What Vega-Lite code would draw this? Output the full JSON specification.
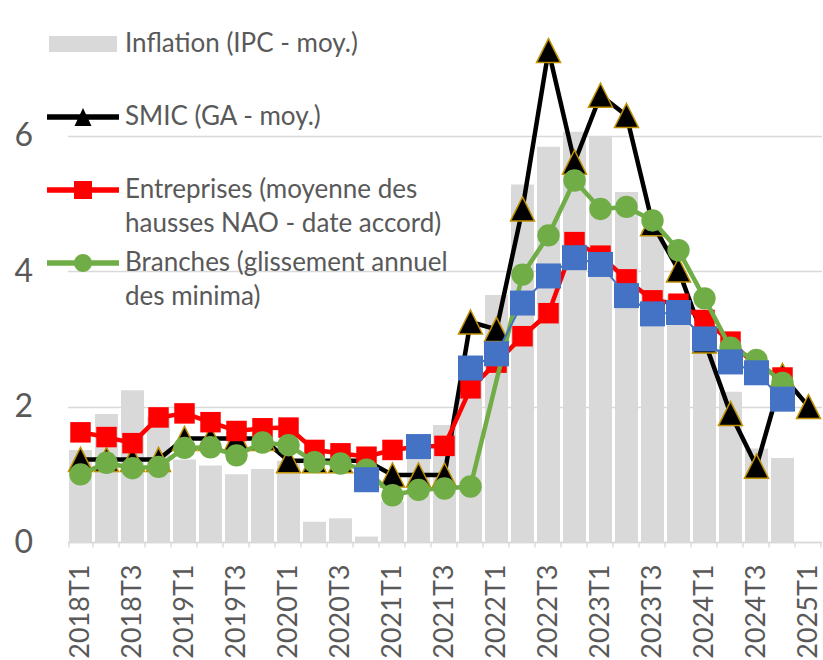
{
  "$schema": "https://vega.github.io/schema/vega-lite/v6.json",
  "width": 754,
  "height": 528,
  "autosize": {"type": "none"},
  "padding": {"left": 67.5, "top": 14, "right": 1.5, "bottom": 118},
  "background": "white",
  "data": {
    "values": [
      {"q": "2018T1", "infl": 1.36, "smic": 1.22, "ent": 1.62, "br": 1.00, "blue": null},
      {"q": "2018T2", "infl": 1.89, "smic": 1.22, "ent": 1.55, "br": 1.17, "blue": null},
      {"q": "2018T3", "infl": 2.24, "smic": 1.22, "ent": 1.46, "br": 1.09, "blue": null},
      {"q": "2018T4", "infl": 1.85, "smic": 1.22, "ent": 1.84, "br": 1.11, "blue": null},
      {"q": "2019T1", "infl": 1.22, "smic": 1.53, "ent": 1.90, "br": 1.39, "blue": null},
      {"q": "2019T2", "infl": 1.13, "smic": 1.53, "ent": 1.77, "br": 1.40, "blue": null},
      {"q": "2019T3", "infl": 1.00, "smic": 1.53, "ent": 1.64, "br": 1.28, "blue": null},
      {"q": "2019T4", "infl": 1.08, "smic": 1.53, "ent": 1.68, "br": 1.47, "blue": null},
      {"q": "2020T1", "infl": 1.20, "smic": 1.20, "ent": 1.69, "br": 1.43, "blue": null},
      {"q": "2020T2", "infl": 0.30, "smic": 1.20, "ent": 1.36, "br": 1.18, "blue": null},
      {"q": "2020T3", "infl": 0.35, "smic": 1.20, "ent": 1.31, "br": 1.16, "blue": null},
      {"q": "2020T4", "infl": 0.08, "smic": 1.20, "ent": 1.26, "br": 1.07, "blue": 0.92},
      {"q": "2021T1", "infl": 0.60, "smic": 0.99, "ent": 1.36, "br": 0.69, "blue": null},
      {"q": "2021T2", "infl": 1.30, "smic": 0.99, "ent": 1.41, "br": 0.77, "blue": 1.41},
      {"q": "2021T3", "infl": 1.73, "smic": 0.99, "ent": 1.42, "br": 0.79, "blue": null},
      {"q": "2021T4", "infl": 2.60, "smic": 3.25, "ent": 2.27, "br": 0.82, "blue": 2.57},
      {"q": "2022T1", "infl": 3.65, "smic": 3.14, "ent": 2.65, "br": null, "blue": 2.78},
      {"q": "2022T2", "infl": 5.28, "smic": 4.92, "ent": 3.04, "br": 3.95, "blue": 3.53},
      {"q": "2022T3", "infl": 5.84, "smic": 7.26, "ent": 3.38, "br": 4.53, "blue": 3.93},
      {"q": "2022T4", "infl": 6.06, "smic": 5.61, "ent": 4.43, "br": 5.34, "blue": 4.20},
      {"q": "2023T1", "infl": 5.99, "smic": 6.60, "ent": 4.23, "br": 4.92, "blue": 4.10},
      {"q": "2023T2", "infl": 5.17, "smic": 6.30, "ent": 3.88, "br": 4.95, "blue": 3.64},
      {"q": "2023T3", "infl": 4.60, "smic": 4.70, "ent": 3.57, "br": 4.75, "blue": 3.37},
      {"q": "2023T4", "infl": 3.65, "smic": 4.02, "ent": 3.52, "br": 4.31, "blue": 3.39},
      {"q": "2024T1", "infl": 2.85, "smic": 2.97, "ent": 3.28, "br": 3.60, "blue": 3.00},
      {"q": "2024T2", "infl": 2.22, "smic": 1.90, "ent": 2.96, "br": 2.87, "blue": 2.66},
      {"q": "2024T3", "infl": 1.38, "smic": 1.12, "ent": 2.60, "br": 2.69, "blue": 2.50},
      {"q": "2024T4", "infl": 1.24, "smic": 2.46, "ent": 2.43, "br": 2.35, "blue": 2.11},
      {"q": "2025T1", "infl": null, "smic": 2.00, "ent": null, "br": null, "blue": null}
    ]
  },
  "transform": [
    {"fold": ["infl", "smic", "ent", "br", "blue"], "as": ["series", "value"]}
  ],
  "encoding": {
    "x": {
      "field": "q",
      "type": "nominal",
      "sort": null,
      "scale": {"paddingInner": 0.115, "paddingOuter": 0.0575},
      "axis": {
        "title": null,
        "labelAngle": -90,
        "labelFont": "Lato",
        "labelFontSize": 27,
        "labelColor": "#595959",
        "labelPadding": 17,
        "tickSize": 5,
        "tickColor": "#d9d9d9",
        "tickWidth": 1.3,
        "tickBand": "extent",
        "domainColor": "#d9d9d9",
        "domainWidth": 1.5,
        "labelOverlap": false,
        "grid": false,
        "labelExpr": "(slice(datum.label, 5) == '1' || slice(datum.label, 5) == '3') ? datum.label : ''"
      }
    },
    "y": {
      "field": "value",
      "type": "quantitative",
      "scale": {"domain": [0, 7.8], "nice": false, "zero": true},
      "axis": {
        "title": null,
        "values": [0, 2, 4, 6],
        "labelFont": "Lato",
        "labelFontSize": 32,
        "labelColor": "#595959",
        "labelPadding": 35,
        "ticks": false,
        "tickSize": 0,
        "domain": false,
        "grid": true,
        "gridColor": "#d9d9d9",
        "gridWidth": 1.3
      }
    }
  },
  "layer": [
    {
      "transform": [{"filter": "datum.series == 'infl'"}],
      "mark": {"type": "bar", "color": "#d9d9d9"}
    },
    {
      "transform": [{"filter": "datum.series != 'blue'"}],
      "mark": {"type": "point", "filled": true, "opacity": 0, "size": 1936},
      "encoding": {
        "color": {
          "field": "series",
          "type": "nominal",
          "scale": {"domain": ["infl", "smic", "ent", "br"], "range": ["#d9d9d9", "#000000", "#ff0000", "#70ad47"]},
          "legend": {
            "orient": "none",
            "legendX": -6.5,
            "legendY": 8,
            "title": null,
            "padding": 0,
            "labelExpr": "datum.value == 'infl' ? ['Inflation (IPC - moy.)', ''] : datum.value == 'smic' ? ['SMIC (GA - moy.)', ''] : datum.value == 'ent' ? ['Entreprises (moyenne des', 'hausses NAO - date accord)'] : ['Branches (glissement annuel', 'des minima)']",
            "labelFont": "Lato",
            "labelFontSize": 26,
            "labelColor": "#595959",
            "labelLimit": 0,
            "labelOffset": 20,
            "symbolSize": 1936,
            "symbolStrokeWidth": 0,
            "symbolOpacity": 1,
            "rowPadding": 4,
            "encode": {"labels": {"update": {"lineHeight": {"value": 34}}}}
          }
        },
        "shape": {
          "field": "series",
          "type": "nominal",
          "scale": {
            "domain": ["infl", "smic", "ent", "br"],
            "range": [
              "M-1.545,-0.364L1.545,-0.364L1.545,0.364L-1.545,0.364Z",
              "M-1.636,-0.125L-0.134,-0.125L0,-0.409L0.134,-0.125L1.636,-0.125L1.636,0.125L0.252,0.125L0.386,0.409L-0.386,0.409L-0.252,0.125L-1.636,0.125Z",
              "M-1.636,-0.125L-0.409,-0.125L-0.409,-0.409L0.409,-0.409L0.409,-0.125L1.636,-0.125L1.636,0.125L0.409,0.125L0.409,0.409L-0.409,0.409L-0.409,0.125L-1.636,0.125Z",
              "M-1.636,-0.125L1.636,-0.125L1.636,0.125L-1.636,0.125Z M0.409,0 A0.409,0.409 0 1,1 -0.409,0 A0.409,0.409 0 1,1 0.409,0 Z"
            ]
          }
        }
      }
    },
    {
      "transform": [{"filter": "datum.series == 'smic'"}],
      "mark": {"type": "line", "color": "#000000", "strokeWidth": 4.5, "strokeJoin": "round", "strokeCap": "round"}
    },
    {
      "transform": [{"filter": "datum.series == 'smic'"}],
      "mark": {"type": "point", "shape": "M0,-1L1,1L-1,1Z", "size": 576, "filled": true, "fill": "#000000", "stroke": "#bf9000", "strokeWidth": 1.5, "opacity": 1}
    },
    {
      "transform": [{"filter": "datum.series == 'ent'"}],
      "mark": {"type": "line", "color": "#ff0000", "strokeWidth": 4.5, "strokeJoin": "round", "strokeCap": "round"}
    },
    {
      "transform": [{"filter": "datum.series == 'ent'"}],
      "mark": {"type": "point", "shape": "square", "size": 420, "filled": true, "fill": "#ff0000", "strokeWidth": 0, "opacity": 1}
    },
    {
      "transform": [{"filter": "datum.series == 'br' && isValid(datum.value)"}],
      "mark": {"type": "line", "color": "#70ad47", "strokeWidth": 4.5, "strokeJoin": "round", "strokeCap": "round"}
    },
    {
      "transform": [{"filter": "datum.series == 'br'"}],
      "mark": {"type": "point", "shape": "circle", "size": 500, "filled": true, "fill": "#70ad47", "strokeWidth": 0, "opacity": 1}
    },
    {
      "transform": [{"filter": "datum.series == 'blue'"}],
      "mark": {"type": "line", "color": "#4472c4", "strokeWidth": 2, "strokeJoin": "round"}
    },
    {
      "transform": [{"filter": "datum.series == 'blue'"}],
      "mark": {"type": "point", "shape": "square", "size": 625, "filled": true, "fill": "#4472c4", "strokeWidth": 0, "opacity": 1}
    }
  ],
  "config": {
    "view": {"stroke": null},
    "font": "Lato"
  }
}
